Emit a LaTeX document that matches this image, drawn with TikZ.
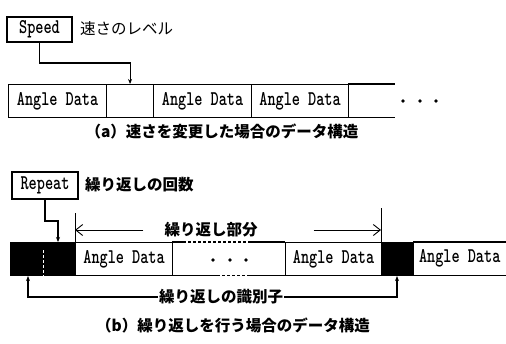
\documentclass[tikz,border=0pt]{standalone}
\usepackage{fontspec}
\newfontfamily\jp{Noto Sans CJK JP}
\usetikzlibrary{arrows.meta,calc}
\newcommand\tw[1]{\scalebox{1}[1.35]{\ttfamily\bfseries\fontsize{15.5}{15.5}\selectfont #1}}
\newcommand\ad{\tw{Angle Data}}
\tikzset{
  lw/.style={line width=1.1pt},
  cell/.style={draw, lw, minimum height=33pt, inner sep=0pt, anchor=north west},
  blk/.style={cell, fill=black},
  ghost/.style={minimum height=33pt, inner sep=0pt, anchor=north west},
  lbox/.style={draw, lw, inner sep=0pt},
  jpl/.style={font=\jp\fontsize{15.5}{18}\selectfont, inner sep=1pt},
  jpb/.style={font=\jp\bfseries\fontsize{15.5}{18}\selectfont, inner sep=1pt},
  conn/.style={lw, -{Stealth[length=5pt,width=4pt]}},
  span/.style={line width=0.9pt, -{Straight Barb[length=7pt,width=11pt]}},
  dotm/.style={fill=black}
}
\begin{document}
\begin{tikzpicture}[x=1pt,y=-1pt]
\useasboundingbox (0,0) rectangle (506,343);

% ---------- (a) ----------
\node[lbox, minimum width=65pt, minimum height=25pt] (speed) at (39.5,29.5) {\tw{Speed}};
\node[jpl, anchor=west] (speedlbl) at (79,29) {速さのレベル};

\node[cell, minimum width=98pt] (a1) at (8,84) {\ad};
\node[cell, minimum width=47pt] (a2) at (106,84) {};
\node[cell, minimum width=98pt] (a3) at (153,84) {\ad};
\node[cell, minimum width=97pt] (a4) at (251,84) {\ad};
\node[ghost, minimum width=47pt] (a5) at (348,84) {};
\draw[lw] (a5.north west) -- (a5.north east);
\draw[lw] (a5.south west) -- (a5.south east);
\fill[dotm] (403,101) circle (1.9pt) (420,101) circle (1.9pt) (436,101) circle (1.9pt);

\draw[conn] (speed.south) -- (speed.south |- 0,63) -| (a2.north);

\node[jpb] (capa) at (222,131) {（a）速さを変更した場合のデータ構造};

% ---------- (b) ----------
\node[lbox, minimum width=66pt, minimum height=27pt] (rep) at (45,185.5) {\tw{Repeat}};
\node[jpb, anchor=west] (replbl) at (84,185) {繰り返しの回数};

\node[blk, minimum width=65pt] (b0) at (10,242) {};
\node[cell, minimum width=97pt] (b1) at (75,242) {\ad};
\node[ghost, minimum width=113pt] (b2) at (172,242) {};
\node[cell, minimum width=96pt] (b3) at (285,242) {\ad};
\node[blk, minimum width=32pt] (b4) at (381,242) {};
\node[ghost, minimum width=93pt] (b5) at (413,242) {\ad};
\draw[lw] (b5.north west) -- (b5.north east);
\draw[lw] (b5.south west) -- (b5.south east);

% dots cell borders
\draw[lw] (b2.north west) -- ($(b2.north west)+(11,0)$);
\draw[lw, dash pattern=on 3pt off 2pt] ($(b2.north west)+(11,0)$) -- ($(b2.north west)+(76,0)$);
\draw[lw] ($(b2.north west)+(76,0)$) -- (b2.north east);
\draw[lw] (b2.south west) -- ($(b2.south west)+(45,0)$);
\draw[lw, dash pattern=on 3pt off 2pt] ($(b2.south west)+(45,0)$) -- ($(b2.south west)+(76,0)$);
\draw[lw] ($(b2.south west)+(76,0)$) -- (b2.south east);
\fill[dotm] (213,260) circle (1.9pt) (230,260) circle (1.9pt) (246,260) circle (1.9pt);

% white dashed mark in first black block
\draw[white, line width=0.7pt, dash pattern=on 3pt off 2pt] ($(b0.north west)+(33,8)$) -- ($(b0.south west)+(33,0)$);

% repeat connector
\coordinate (bin) at (58,242);
\draw[conn] (rep.south) -- (rep.south |- 0,221) -| (bin);

% span markers
\coordinate (spanL) at (75,213);
\coordinate (spanR) at (381,208);
\draw[line width=0.9pt] (b1.north west) -- (spanL);
\draw[line width=0.9pt] (b4.north west) -- (spanR);
\node[jpb] (spanlbl) at (211,230) {繰り返し部分};
\draw[span, shorten <=20pt] (spanlbl.west) -- (spanL |- spanlbl.west);
\draw[span, shorten <=55pt] (spanlbl.east) -- (spanR |- spanlbl.east);

% identifier
\node[jpb] (ident) at (221,297) {繰り返しの識別子};
\draw[conn] (ident.west) -| ($(b0.south west)+(18,0)$);
\draw[conn] (ident.east) -| ($(b4.south west)+(16,0)$);

\node[jpb] (capb) at (233,325) {（b）繰り返しを行う場合のデータ構造};
\end{tikzpicture}
\end{document}
